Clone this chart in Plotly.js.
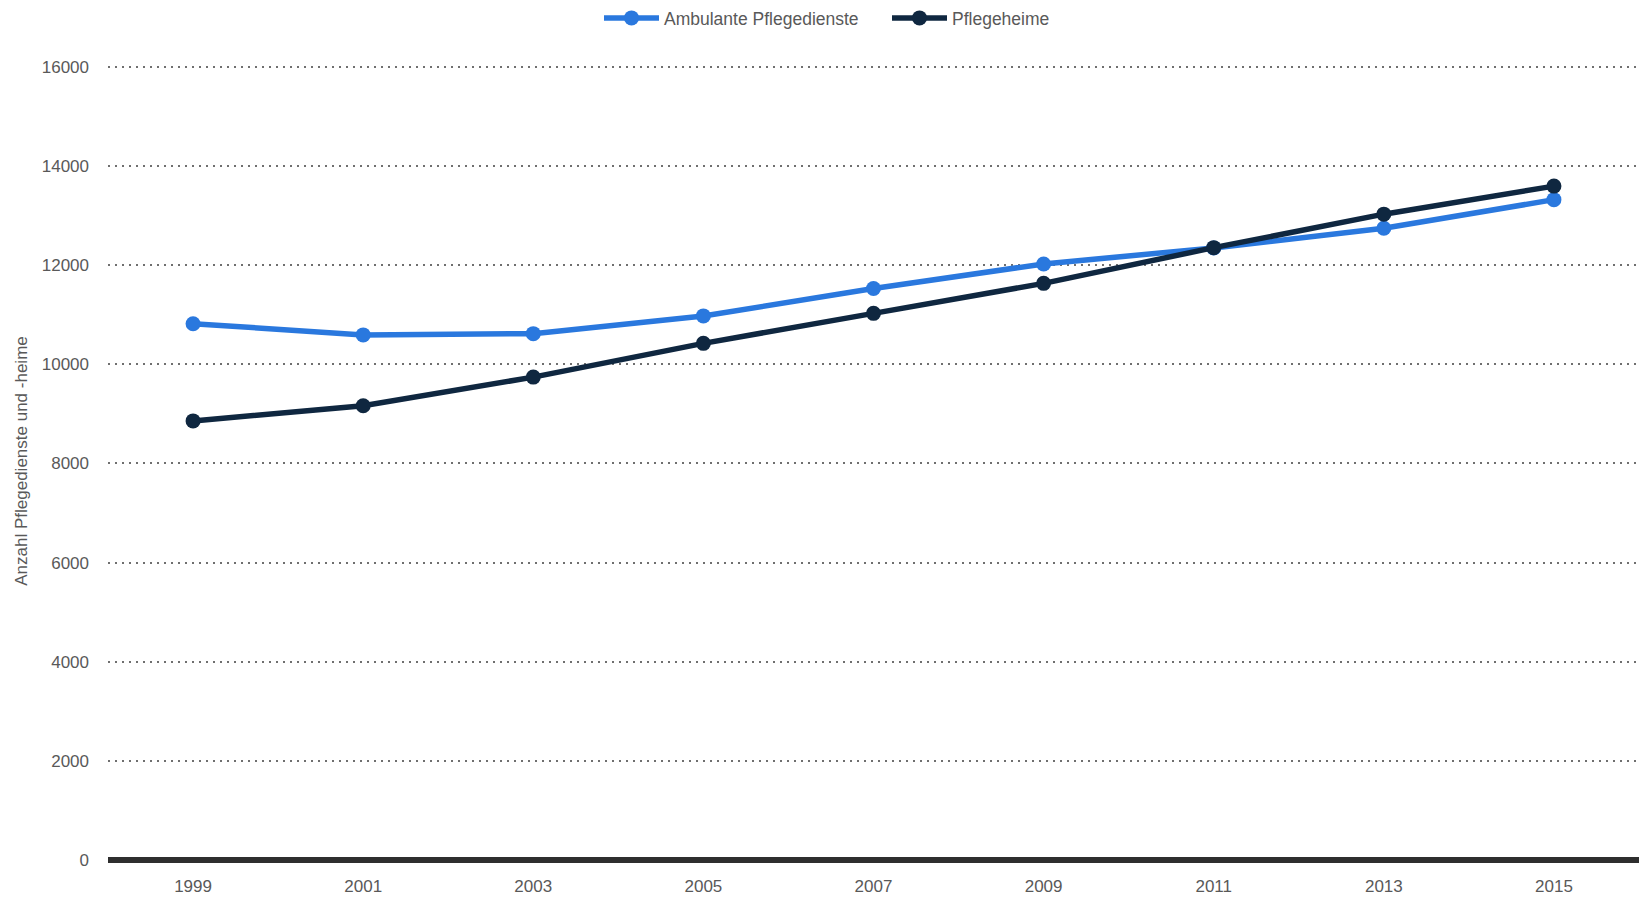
<!DOCTYPE html>
<html>
<head>
<meta charset="utf-8">
<script src="https://cdn.plot.ly/plotly-3.0.1.min.js"></script>
<style>html,body{margin:0;padding:0;background:#fff;}#chart{width:1639px;height:897px;}</style>
</head>
<body>
<div id="chart"></div>
<script>
const years = [1999, 2001, 2003, 2005, 2007, 2009, 2011, 2013, 2015];
const ambulant = [10820, 10594, 10619, 10977, 11529, 12026, 12349, 12745, 13323];
const heime = [8859, 9165, 9743, 10424, 11029, 11634, 12354, 13030, 13596];
const seriesNames = ['Ambulante Pflegedienste', 'Pflegeheime'];
const yTicks = [0, 2000, 4000, 6000, 8000, 10000, 12000, 14000, 16000];

const font = '"Liberation Sans", Arial, sans-serif';
const txt = '#595959';
const traces = [
  {x: years, y: ambulant, name: seriesNames[0], type: 'scatter', mode: 'lines+markers',
   line: {color: '#2a78de', width: 5.5}, marker: {color: '#2a78de', size: 15}},
  {x: years, y: heime, name: seriesNames[1], type: 'scatter', mode: 'lines+markers',
   line: {color: '#0f2740', width: 5.5}, marker: {color: '#0f2740', size: 15}}
];
const layout = {
  width: 1639, height: 897,
  margin: {l: 108, r: 0, t: 62, b: 37},
  paper_bgcolor: '#fff', plot_bgcolor: '#fff',
  font: {family: font, size: 17, color: txt},
  showlegend: true,
  legend: {orientation: 'h', xref: 'container', yref: 'container', x: 599/1639, xanchor: 'left',
           y: 1 - 18/897, yanchor: 'middle', itemwidth: 55, entrywidth: 218,
           font: {family: font, size: 17.5, color: txt}, traceorder: 'normal'},
  xaxis: {range: [1998, 2016], tickvals: years, ticktext: years.map(String), showgrid: false,
          zeroline: false, showline: false, ticks: '', ticklabelstandoff: 14,
          tickfont: {family: font, size: 17, color: txt}},
  yaxis: {range: [0, 16100], tickvals: yTicks, ticktext: yTicks.map(String),
          showgrid: true, gridcolor: '#6f6f6f', gridwidth: 2, griddash: '2px,5px',
          zeroline: true, zerolinecolor: '#2e2e2e', zerolinewidth: 6,
          showline: false, ticks: '', ticklabelstandoff: 18,
          tickfont: {family: font, size: 17, color: txt},
          title: {text: 'Anzahl Pflegedienste und -heime', font: {family: font, size: 17, color: txt}, standoff: 9}}
};
Plotly.newPlot('chart', traces, layout, {displayModeBar: false, staticPlot: true});
</script>
</body>
</html>
